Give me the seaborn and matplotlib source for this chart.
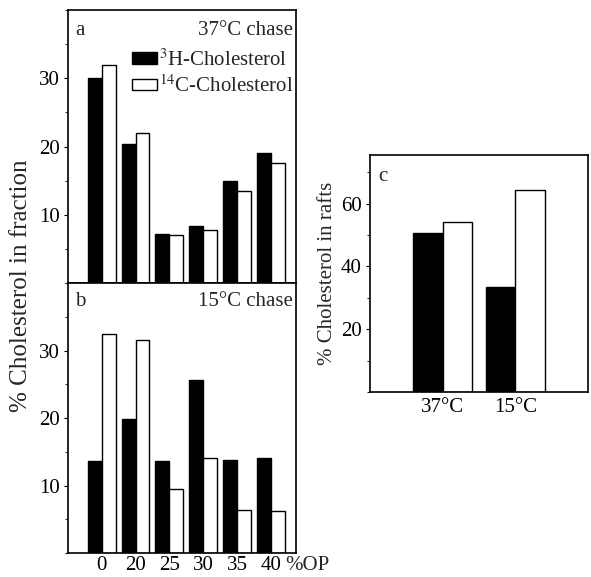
import numpy as np
import pandas as pd
import matplotlib
matplotlib.use("Agg")
import matplotlib.pyplot as plt
import seaborn as sns
from matplotlib.patches import Patch
from matplotlib.ticker import MultipleLocator

# ---- data ----
op_labels = ["0", "20", "25", "30", "35", "40"]
series = ["3H", "14C"]
a_3h = [30.0, 20.4, 7.2, 8.4, 15.0, 19.0]
a_14c = [31.9, 22.0, 7.1, 7.8, 13.5, 17.6]
b_3h = [13.6, 19.8, 13.6, 25.6, 13.8, 14.1]
b_14c = [32.5, 31.6, 9.5, 14.1, 6.4, 6.2]
c_labels = ["37°C", "15°C"]
c_3h = [50.5, 33.3]
c_14c = [54.0, 64.3]

sns.set_theme(style="white")
plt.rcParams['font.family'] = ['Liberation Serif', 'DejaVu Serif']
plt.rcParams['mathtext.fontset'] = 'stix'

def frame(cats, v1, v2):
    return pd.DataFrame({
        "cat": list(cats) * 2,
        "val": list(v1) + list(v2),
        "ser": [series[0]] * len(cats) + [series[1]] * len(cats),
    })

fig = plt.figure(figsize=(5.91, 5.77), dpi=100)
ax_a = fig.add_axes([0.115, 0.5095, 0.386, 0.4732])
ax_b = fig.add_axes([0.115, 0.0416, 0.386, 0.4679])
ax_c = fig.add_axes([0.626, 0.3206, 0.369, 0.4108])

pal = {series[0]: "black", series[1]: "white"}
FS = 15

def style(ax, ymax, major, minor):
    ax.set_ylim(0, ymax)
    ax.yaxis.set_major_locator(MultipleLocator(major))
    ax.yaxis.set_minor_locator(MultipleLocator(minor))
    for s in ax.spines.values():
        s.set_visible(True)
        s.set_color("black")
        s.set_linewidth(1.2)
    ax.tick_params(axis="y", which="major", direction="out", length=3, width=0.8,
                   left=True, labelsize=FS, pad=3, colors="black")
    ax.tick_params(axis="y", which="minor", direction="out", length=2, width=0.8, left=True)
    ax.tick_params(axis="x", which="both", length=0, labelsize=FS, colors="black", pad=2)
    ax.set_xlabel("")
    ax.set_ylabel("")
    labels = [t for t in ax.get_yticks() if 0 < t < ymax]
    ax.set_yticks(labels)
    ax.set_yticklabels([f"{int(t)}" for t in labels])

for ax, v1, v2 in [(ax_a, a_3h, a_14c), (ax_b, b_3h, b_14c)]:
    sns.barplot(data=frame(op_labels, v1, v2), x="cat", y="val", hue="ser",
                palette=pal, edgecolor="black", linewidth=1.0, width=0.82,
                legend=False, ax=ax, saturation=1)
    ax.set_xlim(-1.0, 5.75)
    style(ax, 40, 10, 5)

ax_a.set_xticklabels([])
ax_b.set_xticklabels(op_labels)
ax_b.text(5.42, -0.012, "%OP", transform=ax_b.get_xaxis_transform(),
          ha="left", va="top", fontsize=FS)

ax_a.text(0.03, 0.96, "a", transform=ax_a.transAxes, ha="left", va="top", fontsize=FS)
ax_a.text(0.985, 0.96, "37°C chase", transform=ax_a.transAxes, ha="right", va="top", fontsize=FS)
ax_b.text(0.03, 0.965, "b", transform=ax_b.transAxes, ha="left", va="top", fontsize=FS)
ax_b.text(0.985, 0.965, "15°C chase", transform=ax_b.transAxes, ha="right", va="top", fontsize=FS)

handles = [Patch(facecolor="black", edgecolor="black"),
           Patch(facecolor="white", edgecolor="black")]
ax_a.legend(handles, [r"$^{3}$H-Cholesterol", r"$^{14}$C-Cholesterol"],
            loc="upper right", bbox_to_anchor=(1.0, 0.865), frameon=False,
            fontsize=FS, handlelength=1.2, handleheight=0.45, handletextpad=0.1,
            labelspacing=0.25, borderaxespad=0.0, borderpad=0.1)

fig.text(0.036, 1 - 286 / 577, "% Cholesterol in fraction", rotation=90, ha="center",
         va="center", fontsize=18)

sns.barplot(data=frame(c_labels, c_3h, c_14c), x="cat", y="val", hue="ser",
            palette=pal, edgecolor="black", linewidth=1.0, width=0.82,
            legend=False, ax=ax_c, saturation=1)
ax_c.set_xlim(-1.0, 2.0)
style(ax_c, 75.5, 20, 10)
ax_c.set_xticks([0, 1])
ax_c.set_xticklabels(c_labels)
ax_c.tick_params(axis="x", pad=4)
ax_c.set_ylabel("% Cholesterol in rafts", fontsize=FS, labelpad=3)
ax_c.text(0.04, 0.95, "c", transform=ax_c.transAxes, ha="left", va="top", fontsize=FS)

fig.savefig("out.png", dpi=100, facecolor="white")
